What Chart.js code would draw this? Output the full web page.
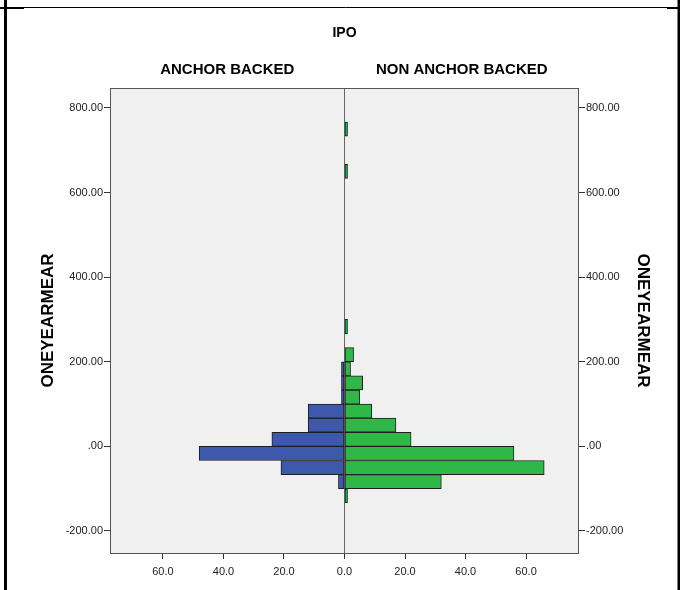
<!DOCTYPE html>
<html>
<head>
<meta charset="utf-8">
<script src="https://cdn.jsdelivr.net/npm/chart.js@4/dist/chart.umd.min.js"></script>
<style>
  body { margin: 0; background: #fff; }
  #wrap { position: relative; width: 680px; height: 590px; }
</style>
</head>
<body>
<div id="wrap"><canvas id="pyramid" width="680" height="590"></canvas></div>
<script>
// bin midpoints of ONEYEARMEAR (bins are ~33.3 wide), only non-empty bins
const binMids = [-116.67, -83.33, -50, -16.67, 16.67, 50, 83.33, 116.67, 150, 183.33, 216.67, 283.33, 650, 750];
// frequencies
const anchorCounts    = [0, 2, 21, 48, 24, 12, 12, 1, 1, 1, 0, 0, 0, 0];
const nonAnchorCounts = [1, 32, 66, 56, 22, 17, 9, 5, 6, 2, 3, 1, 1, 1];
const groupLabels = ['ANCHOR BACKED', 'NON ANCHOR BACKED'];
const yTicks = [-200, 0, 200, 400, 600, 800];
const xTicks = [-60, -40, -20, 0, 20, 40, 60];

const FONT = "'Liberation Sans', Arial, sans-serif";

// build point lists, anchor side goes to the left (negative)
function points(counts, sign) {
    const pts = [];
    counts.forEach((c, i) => {
        if (c > 0) pts.push({ x: sign * c, y: binMids[i] });
    });
    return pts;
}

function yLabel(v) {
    if (v === 0) return '.00';
    return v.toFixed(2);
}

// grey plot background, frame and the titles
const decor = {
    id: 'decor',
    beforeDraw(chart) {
        const { ctx, chartArea: a } = chart;
        ctx.save();
        ctx.fillStyle = '#f0f0f0';
        ctx.fillRect(a.left, a.top, a.right - a.left, a.bottom - a.top);
        ctx.restore();
    },
    afterDraw(chart) {
        const { ctx, chartArea: a } = chart;
        const mid = chart.scales.x.getPixelForValue(0);
        ctx.save();
        ctx.strokeStyle = '#555';
        ctx.lineWidth = 1;
        ctx.strokeRect(a.left + 0.5, a.top + 0.5, a.right - a.left - 1, a.bottom - a.top);

        // outer table border
        ctx.strokeStyle = '#000';
        ctx.lineWidth = 3;
        ctx.beginPath();
        ctx.moveTo(5.5, 0); ctx.lineTo(5.5, 590);
        ctx.moveTo(679, 0); ctx.lineTo(679, 590);
        ctx.stroke();
        ctx.lineWidth = 2;
        ctx.beginPath();
        ctx.moveTo(0, 8); ctx.lineTo(24, 8);
        ctx.moveTo(667, 8); ctx.lineTo(680, 8);
        ctx.stroke();
        ctx.lineWidth = 1;
        ctx.beginPath();
        ctx.moveTo(24, 7.5); ctx.lineTo(667, 7.5);
        ctx.stroke();

        ctx.fillStyle = '#000';
        ctx.textAlign = 'center';
        ctx.textBaseline = 'middle';
        ctx.font = 'bold 14px ' + FONT;
        ctx.fillText('IPO', (a.left + a.right) / 2, 33);
        ctx.font = 'bold 15px ' + FONT;
        ctx.fillText(groupLabels[0], (a.left + mid) / 2, 70);
        ctx.fillText(groupLabels[1], (mid + a.right) / 2, 70);
        ctx.restore();
    }
};

const yAxis = (pos, pad) => ({
    type: 'linear',
    position: pos,
    min: -252,
    max: 847,
    offset: false,
    afterBuildTicks: s => { s.ticks = yTicks.map(v => ({ value: v })); },
    afterFit: s => { s.width = pos === 'left' ? 110 : 101; },
    grid: { offset: false, drawOnChartArea: false, drawTicks: true, tickLength: 6, tickColor: '#333', color: '#333' },
    border: { display: false },
    ticks: {
        color: '#222',
        padding: 1,
        font: { family: FONT, size: 11 },
        callback: v => yLabel(v)
    },
    title: {
        display: true,
        text: 'ONEYEARMEAR',
        color: '#000',
        font: { family: FONT, size: 17, weight: 'bold' },
        padding: { top: pad, bottom: 0 }
    }
});

new Chart(document.getElementById('pyramid'), {
    type: 'bar',
    data: {
        datasets: [
            {
                label: groupLabels[0],
                data: points(anchorCounts, -1),
                backgroundColor: '#3e58ac',
                borderColor: '#1e1e1e',
                borderWidth: 1,
                borderSkipped: false,
                grouped: false,
                barPercentage: 1,
                categoryPercentage: 1,
                yAxisID: 'y'
            },
            {
                label: groupLabels[1],
                data: points(nonAnchorCounts, 1),
                backgroundColor: '#2eb848',
                borderColor: '#1e1e1e',
                borderWidth: 1,
                borderSkipped: false,
                grouped: false,
                barPercentage: 1,
                categoryPercentage: 1,
                yAxisID: 'y'
            }
        ]
    },
    options: {
        indexAxis: 'y',
        responsive: false,
        animation: false,
        layout: { padding: { top: 88, left: 0, right: 0, bottom: 0 } },
        plugins: {
            legend: { display: false },
            tooltip: { enabled: false }
        },
        scales: {
            x: {
                type: 'linear',
                min: -77.5,
                max: 77.5,
                afterBuildTicks: s => { s.ticks = xTicks.map(v => ({ value: v })); },
                afterFit: s => { s.height = 37; },
                grid: {
                    drawOnChartArea: true,
                    tickLength: 6,
                    tickColor: '#333',
                    color: c => (c.tick && c.tick.value === 0 ? '#666' : 'rgba(0,0,0,0)')
                },
                border: { display: false },
                ticks: {
                    color: '#222',
                    padding: 6,
                    font: { family: FONT, size: 11 },
                    callback: v => Math.abs(v).toFixed(1)
                }
            },
            y: yAxis('left', 38),
            y2: yAxis('right', 27)
        }
    },
    plugins: [decor]
});
</script>
</body>
</html>
